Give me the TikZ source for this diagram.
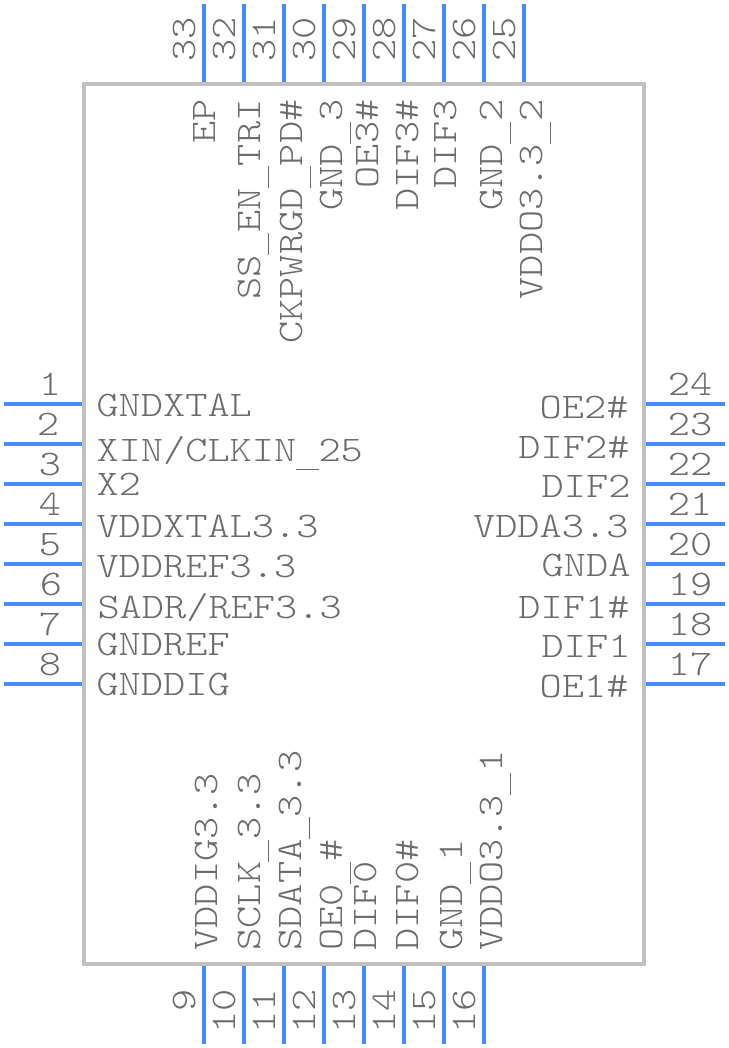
\documentclass[tikz,border=0pt]{standalone}
\usepackage{fontspec}
\setmonofont[FakeStretch=1.175]{Latin Modern Mono Light}
\definecolor{pinblue}{RGB}{74,140,247}
\definecolor{bodygray}{RGB}{192,192,192}
\definecolor{textgray}{RGB}{108,108,108}
\newcommand{\usc}{\rule[-6.6pt]{16.6pt}{0.9pt}}
\tikzset{every picture/.style={line width=0.75pt}}
\tikzset{
  pinline/.style={color=pinblue,line width=3pt},
  bodyline/.style={color=bodygray,line width=3pt},
  pintext/.style={inner sep=0pt,text=textgray,font=\fontsize{27}{27}\ttfamily},
}

\begin{document}
\begin{tikzpicture}[x=0.75pt,y=0.75pt,yscale=-1,xscale=1]
\path[use as bounding box] (0,0) rectangle (728,1048);

%Body
\draw [bodyline] (84,84) rectangle (644,964);

%Left pins
\foreach \n/\py/\nx in {1/404/50,2/444/48,3/484/50,4/524/50,5/564/50,6/604/51,7/644/50,8/684/50}{
  \coordinate (pinA\n) at (4,\py);
  \coordinate (endA\n) at (82,\py);
  \draw [pinline] (pinA\n) -- (endA\n);
  \node (numA\n) [pintext,anchor=base] at (\nx,\py-9) {\n};
}
%Right pins
\foreach \n/\py in {24/404,23/444,22/484,21/524,20/564,19/604,18/644,17/684}{
  \coordinate (pinB\n) at (725,\py);
  \coordinate (endB\n) at (646,\py);
  \draw [pinline] (pinB\n) -- (endB\n);
  \node (numB\n) [pintext,anchor=base] at (690,\py-9) {\n};
}
%Top pins
\foreach \n/\px in {33/204,32/244,31/284,30/324,29/364,28/404,27/444,26/484,25/524}{
  \coordinate (pinC\n) at (\px,4);
  \coordinate (endC\n) at (\px,82);
  \draw [pinline] (pinC\n) -- (endC\n);
  \node (numC\n) [pintext,rotate=90,anchor=base east] at (\px-9,17) {\n};
}
%Bottom pins
\foreach \n/\px in {9/204,10/244,11/284,12/324,13/364,14/404,15/444,16/484}{
  \coordinate (pinD\n) at (\px,1044);
  \coordinate (endD\n) at (\px,966);
  \draw [pinline] (pinD\n) -- (endD\n);
  \node (numD\n) [pintext,rotate=90,anchor=base east] at (\px-9,989) {\n};
}

% Text Node
\node (lblA1) [pintext,anchor=base west] at (96,416) {GNDXTAL};
\node (lblA2) [pintext,anchor=base west] at (96,461) {XIN/CLKIN\usc25};
\node (lblA3) [pintext,anchor=base west] at (96,495) {X2};
\node (lblA4) [pintext,anchor=base west] at (96,537) {VDDXTAL3.3};
\node (lblA5) [pintext,anchor=base west] at (96,577) {VDDREF3.3};
\node (lblA6) [pintext,anchor=base west] at (97,618) {SADR/REF3.3};
\node (lblA7) [pintext,anchor=base west] at (96,655) {GNDREF};
\node (lblA8) [pintext,anchor=base west] at (96,695) {GNDDIG};
% Text Node
\foreach \n/\px/\py/\t in {24/629/418/OE2\#,23/630/458/DIF2\#,22/631/497/DIF2,21/629/537/VDDA3.3,20/631/576/GNDA,19/630/618/DIF1\#,18/631/657/DIF1,17/629/697/OE1\#}{
  \node (lblB\n) [pintext,anchor=base east] at (\px,\py) {\t};
}
% Text Node
\foreach \n/\px/\t in {33/215/EP,32/260/SS\usc EN\usc TRI,31/302/CKPWRGD\usc PD\#,30/342/GND\usc3,29/378/OE3\#,28/418/DIF3\#,27/456/DIF3,26/502/GND\usc2,25/542/VDDO3.3\usc2}{
  \node (lblC\n) [pintext,rotate=90,anchor=base east] at (\px,99) {\t};
}
% Text Node
\foreach \n/\px/\t in {9/217/VDDIG3.3,10/260/SCLK\usc3.3,11/301/SDATA\usc3.3,12/342/OE0\usc\#,13/376/DIF0,14/418/DIF0\#,15/462/GND\usc1,16/502/VDDO3.3\usc1}{
  \node (lblD\n) [pintext,rotate=90,anchor=base west] at (\px,951) {\t};
}

\end{tikzpicture}
\end{document}
